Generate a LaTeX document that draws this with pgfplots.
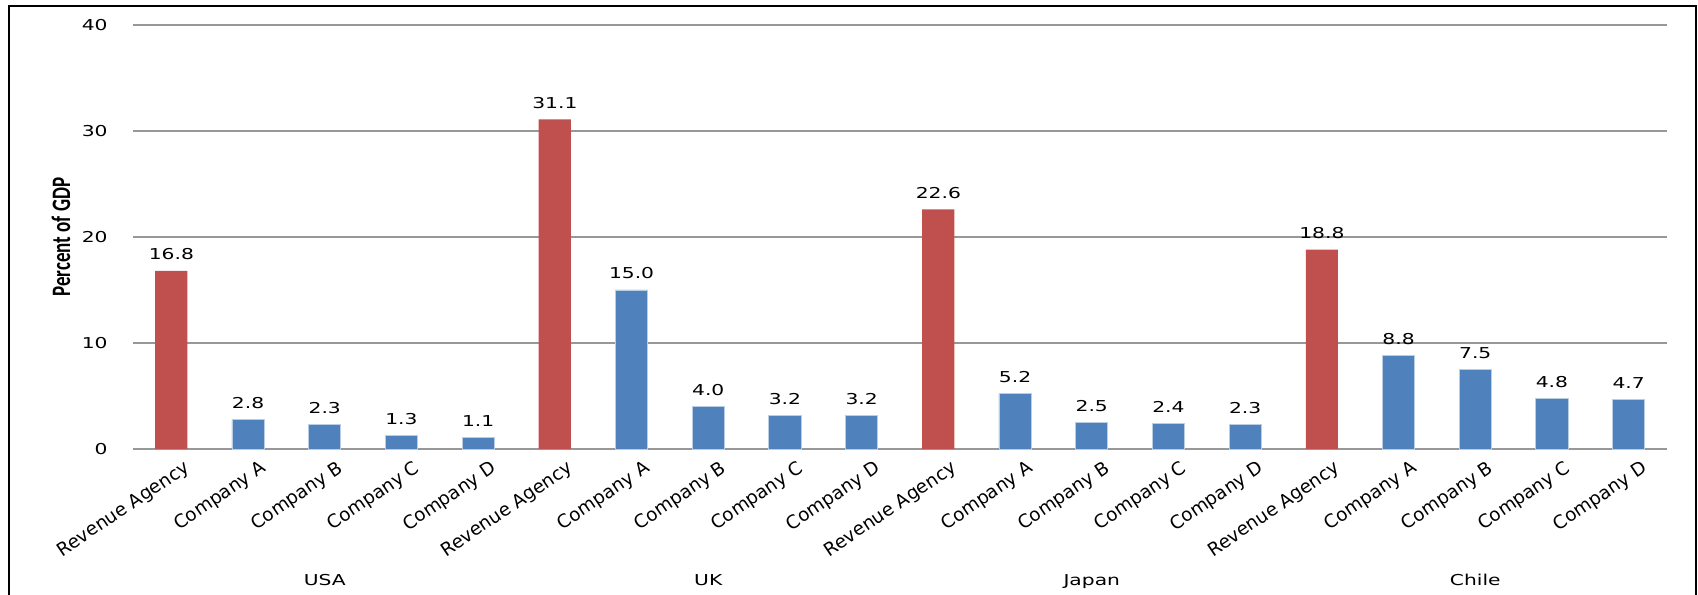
\documentclass[border=0pt]{standalone}
\usepackage{fontspec}
\usepackage{pgfplots}
\pgfplotsset{compat=1.18}
\setmainfont[FakeStretch=1.35]{DejaVu Sans}
\newfontfamily\tickfont{DejaVu Sans}
\newfontfamily\labelfont{Carlito}
\definecolor{agencyred}{HTML}{C0504D}
\definecolor{firmblue}{HTML}{4F81BD}
\definecolor{firmedge}{HTML}{B9CDE5}
\definecolor{gridgray}{HTML}{989898}

\begin{document}
\begin{tikzpicture}
\begin{axis}[
  at={(0,0)}, anchor=south west,
  scale only axis,
  width=767pt, height=212pt,
  xmin=-0.5, xmax=19.5,
  ymin=0, ymax=40,
  ytick={0,10,20,30,40},
  xtick={0,...,19},
  xticklabels={Revenue Agency,Company A,Company B,Company C,Company D,
               Revenue Agency,Company A,Company B,Company C,Company D,
               Revenue Agency,Company A,Company B,Company C,Company D,
               Revenue Agency,Company A,Company B,Company C,Company D},
  axis line style={draw=none},
  ymajorgrids,
  grid style={gridgray, line width=0.6pt},
  major tick length=0pt,
  tick style={draw=none},
  /pgf/number format/assume math mode=true,
  yticklabel style={font=\fontsize{7.5}{8}\selectfont, anchor=east, inner sep=0pt, xshift=-12.5pt},
  xticklabel style={font=\tickfont\fontsize{9.2}{10}\selectfont, rotate=34, anchor=east, inner sep=0pt, yshift=-12pt, xshift=2pt},
  ylabel={\scalebox{1}[1.4]{\labelfont\bfseries\fontsize{9.5}{11}\selectfont Percent of GDP}},
  every axis y label/.style={at={([xshift=-36pt]axis description cs:0,0.5)}, rotate=90, anchor=center},
  ybar, bar shift=0pt, bar width=0.42,
  nodes near coords={\pgfmathprintnumber[fixed,fixed zerofill,precision=1]{\pgfplotspointmeta}},
  every node near coord/.append style={font=\fontsize{7.5}{8}\selectfont, anchor=base, inner sep=0pt, yshift=5.5pt, text=black},
  clip=false,
]
% tax agencies
\addplot[fill=agencyred, draw=none] coordinates {(0,16.8) (5,31.1) (10,22.6) (15,18.8)};
% companies
\addplot[fill=firmblue, draw=firmedge, line width=0.4pt] coordinates {
  (1,2.8) (2,2.3) (3,1.3) (4,1.1)
  (6,15.0) (7,4.0) (8,3.2) (9,3.2)
  (11,5.2) (12,2.5) (13,2.4) (14,2.3)
  (16,8.8) (17,7.5) (18,4.8) (19,4.7)};
% country names under each group
\foreach \x/\name in {2/USA,7/UK,12/Japan,17/Chile}{
  \edef\tmp{\noexpand\node[font=\noexpand\fontsize{7.5}{8}\noexpand\selectfont, anchor=base] at ([yshift=-68pt]axis cs:\x,0) {\name};}
  \tmp
}
\end{axis}
\useasboundingbox (-66.5pt,-71.5pt) rectangle (782.5pt,224.5pt);
\draw[line width=1.3pt] (-62pt,-75pt) -- (-62pt,221.5pt) -- (781.5pt,221.5pt) -- (781.5pt,-75pt);
\end{tikzpicture}
\end{document}
